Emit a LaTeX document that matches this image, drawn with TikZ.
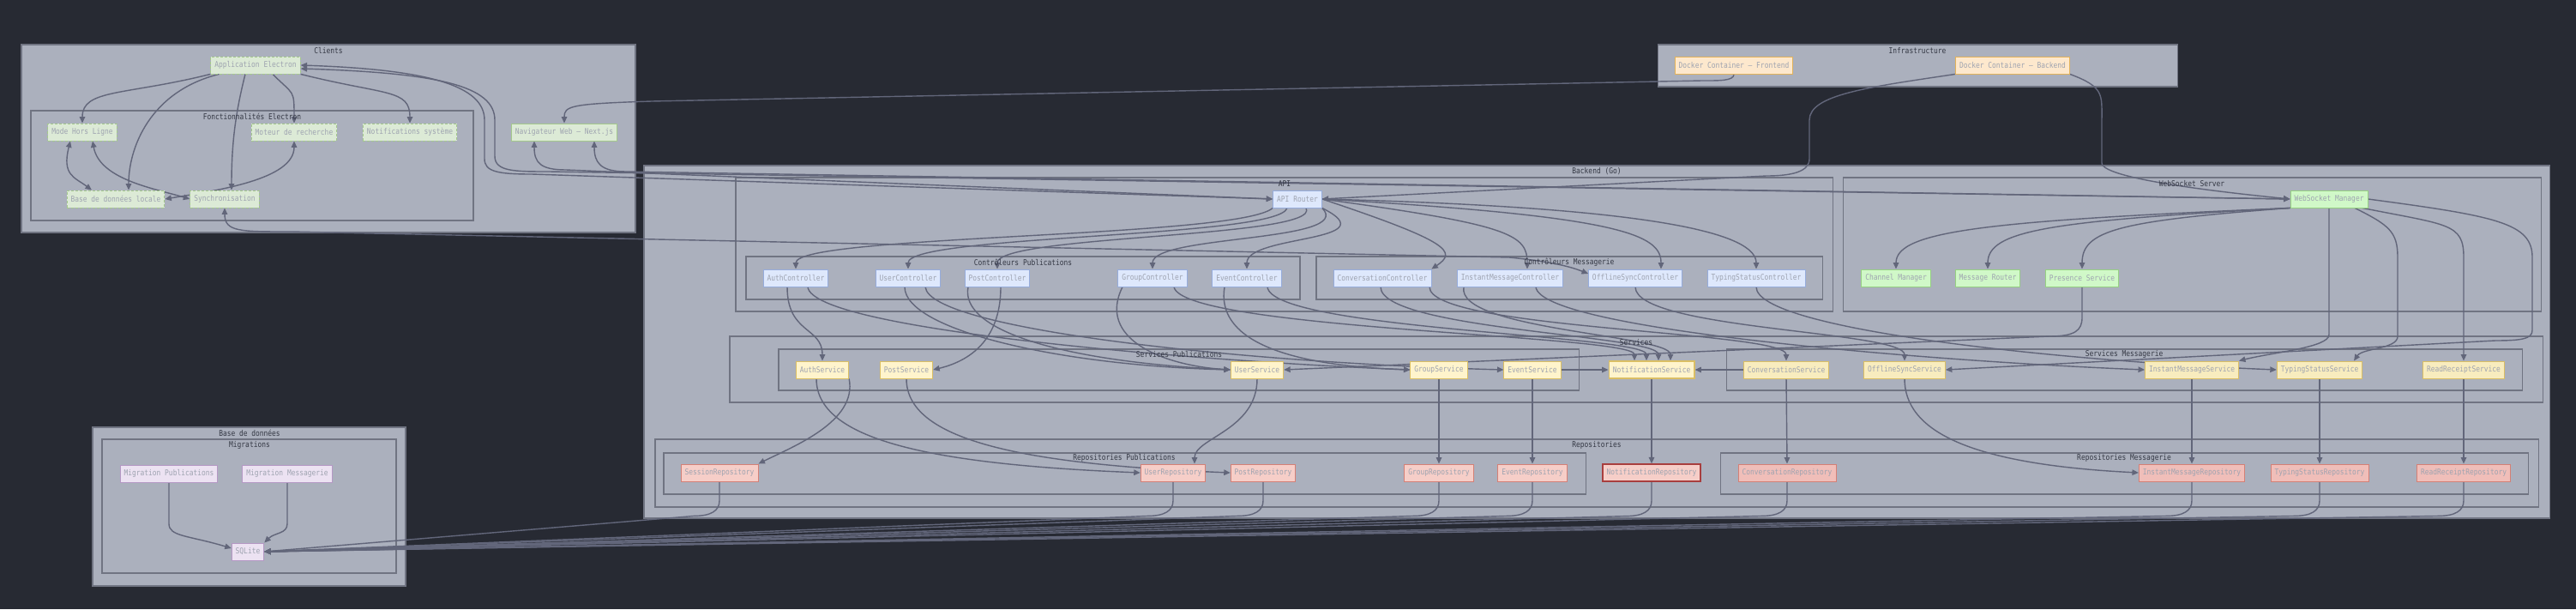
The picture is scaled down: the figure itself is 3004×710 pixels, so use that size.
\documentclass[tikz,border=0pt]{standalone}
\usepackage{fontspec}
\newfontfamily\diafont[FakeStretch=0.85]{DejaVu Sans Mono}
\usetikzlibrary{arrows.meta,calc}

\definecolor{bgcol}{RGB}{39,42,51}
\definecolor{clfill}{RGB}{171,176,189}
\definecolor{cldraw}{RGB}{112,116,130}
\definecolor{linkcol}{RGB}{98,102,122}
\definecolor{nodetext}{RGB}{158,163,176}
\definecolor{titletext}{RGB}{52,56,68}
\definecolor{elecfill}{RGB}{220,234,214}
\definecolor{elecdraw}{RGB}{164,200,140}
\definecolor{dockfill}{RGB}{253,232,205}
\definecolor{dockdraw}{RGB}{226,178,90}
\definecolor{apifill}{RGB}{222,232,252}
\definecolor{apidraw}{RGB}{150,172,220}
\definecolor{wsfill}{RGB}{208,248,200}
\definecolor{wsdraw}{RGB}{150,208,130}
\definecolor{svcfill}{RGB}{255,244,204}
\definecolor{svcmfill}{RGB}{248,236,190}
\definecolor{svcdraw}{RGB}{218,190,100}
\definecolor{repofill}{RGB}{246,206,200}
\definecolor{repomfill}{RGB}{240,190,185}
\definecolor{repodraw}{RGB}{212,128,118}
\definecolor{notifdraw}{RGB}{168,62,62}
\definecolor{dbfill}{RGB}{236,226,242}
\definecolor{dbdraw}{RGB}{180,152,196}

\pgfdeclarelayer{bg}
\pgfdeclarelayer{links}
\pgfsetlayers{bg,links,main}

\tikzset{
  box/.style={draw, rectangle, line width=0.5pt, minimum height=0.4cm,
    inner xsep=0.09cm, inner ysep=0pt, text=nodetext},
  elecbox/.style={box, fill=elecfill, draw=elecdraw, dash pattern=on 0.06cm off 0.04cm},
  webbox/.style={box, fill=elecfill, draw=elecdraw},
  dockbox/.style={box, fill=dockfill, draw=dockdraw},
  apibox/.style={box, fill=apifill, draw=apidraw},
  wsbox/.style={box, fill=wsfill, draw=wsdraw},
  svcbox/.style={box, fill=svcfill, draw=svcdraw},
  svcmbox/.style={box, fill=svcmfill, draw=svcdraw},
  repobox/.style={box, fill=repofill, draw=repodraw},
  repombox/.style={box, fill=repomfill, draw=repodraw},
  dbbox/.style={box, fill=dbfill, draw=dbdraw},
  cluster/.style={draw=cldraw, fill=clfill, line width=0.6pt},
  cltitle/.style={text=titletext, inner sep=0pt},
  link/.style={draw=linkcol, line width=0.8pt, -{Triangle[length=0.15cm, width=0.13cm]}},
  bilink/.style={link, {Triangle[length=0.15cm, width=0.13cm]}-{Triangle[length=0.15cm, width=0.13cm]}},
}

\begin{document}
\begin{tikzpicture}[x=0.02cm, y=0.02cm, every node/.style={font=\diafont\fontsize{5.3}{6}\selectfont}]

\begin{pgfonlayer}{bg}
\fill[bgcol] (0,0) rectangle (3004,-710);
\useasboundingbox (0,0) rectangle (3004,-710);

% clusters
\draw[cluster] (25,-52) rectangle (741,-271);
\draw[cluster] (36,-129) rectangle (552,-257);
\draw[cluster] (1933,-52) rectangle (2539,-101);
\draw[cluster] (751,-193) rectangle (2973,-604);
\draw[cluster] (858,-207) rectangle (2137,-363);
\draw[cluster] (870,-299) rectangle (1516,-349);
\draw[cluster] (1535,-299) rectangle (2125,-349);
\draw[cluster] (2149,-207) rectangle (2963,-363);
\draw[cluster] (851,-392) rectangle (2965,-469);
\draw[cluster] (908,-407) rectangle (1841,-455);
\draw[cluster] (2013,-407) rectangle (2941,-455);
\draw[cluster] (764,-512) rectangle (2960,-591);
\draw[cluster] (774,-528) rectangle (1849,-576);
\draw[cluster] (2006,-528) rectangle (2948,-576);
\draw[cluster] (108,-498) rectangle (473,-683);
\draw[cluster] (119,-512) rectangle (462,-668);
\end{pgfonlayer}

% cluster titles
\node[cltitle] (tclients) at (383,-59) {Clients};
\node[cltitle] (tfonct) at (294,-136) {Fonctionnalités Electron};
\node[cltitle] (tinfra) at (2236,-59) {Infrastructure};
\node[cltitle] (tbackend) at (1862,-200) {Backend (Go)};
\node[cltitle] (tapi) at (1498,-214) {API};
\node[cltitle] (tctrlpub) at (1193,-306) {Contrôleurs Publications};
\node[cltitle] (tctrlmsg) at (1830,-306) {Contrôleurs Messagerie};
\node[cltitle] (twssrv) at (2556,-214) {WebSocket Server};
\node[cltitle] (tservices) at (1908,-399) {Services};
\node[cltitle] (tsvcpub) at (1375,-413) {Services Publications};
\node[cltitle] (tsvcmsg) at (2477,-413) {Services Messagerie};
\node[cltitle] (trepos) at (1862,-519) {Repositories};
\node[cltitle] (trepopub) at (1311,-534) {Repositories Publications};
\node[cltitle] (trepomsg) at (2477,-534) {Repositories Messagerie};
\node[cltitle] (tdb) at (291,-505) {Base de données};
\node[cltitle] (tmigr) at (291,-519) {Migrations};

% clients
\node[elecbox] (app) at (298,-76) {Application Electron};
\node[elecbox] (offline) at (96,-154) {Mode Hors Ligne};
\node[elecbox] (search) at (343,-154) {Moteur de recherche};
\node[elecbox] (notif) at (478,-154) {Notifications système};
\node[webbox] (web) at (658,-154) {Navigateur Web – Next.js};
\node[elecbox] (localdb) at (135,-232) {Base de données locale};
\node[elecbox] (sync) at (262,-232) {Synchronisation};

% infrastructure
\node[dockbox] (front) at (2022,-76) {Docker Container – Frontend};
\node[dockbox] (back) at (2347,-76) {Docker Container – Backend};

% api
\node[apibox] (router) at (1513,-232) {API Router};
\node[apibox] (authc) at (928,-324) {AuthController};
\node[apibox] (userc) at (1059,-324) {UserController};
\node[apibox] (postc) at (1163,-324) {PostController};
\node[apibox] (groupc) at (1344,-324) {GroupController};
\node[apibox] (eventc) at (1454,-324) {EventController};
\node[apibox] (convc) at (1612,-324) {ConversationController};
\node[apibox] (imc) at (1761,-324) {InstantMessageController};
\node[apibox] (offc) at (1907,-324) {OfflineSyncController};
\node[apibox] (typc) at (2048,-324) {TypingStatusController};

% websocket server
\node[wsbox] (wsm) at (2716,-232) {WebSocket Manager};
\node[wsbox] (chan) at (2211,-324) {Channel Manager};
\node[wsbox] (msgr) at (2318,-324) {Message Router};
\node[wsbox] (presence) at (2428,-324) {Presence Service};

% services
\node[svcbox] (auths) at (959,-431) {AuthService};
\node[svcbox] (posts) at (1057,-431) {PostService};
\node[svcbox] (users) at (1466,-431) {UserService};
\node[svcbox] (groups) at (1678,-431) {GroupService};
\node[svcbox] (events) at (1787,-431) {EventService};
\node[svcbox, line width=0.8pt] (notifs) at (1926,-431) {NotificationService};
\node[svcmbox] (convs) at (2083,-431) {ConversationService};
\node[svcmbox] (offs) at (2221,-431) {OfflineSyncService};
\node[svcmbox] (ims) at (2556,-431) {InstantMessageService};
\node[svcmbox] (typs) at (2705,-431) {TypingStatusService};
\node[svcmbox] (rrs) at (2873,-431) {ReadReceiptService};

% repositories
\node[repobox] (sessr) at (839,-551) {SessionRepository};
\node[repobox] (userr) at (1368,-551) {UserRepository};
\node[repobox] (postr) at (1473,-551) {PostRepository};
\node[repobox] (groupr) at (1678,-551) {GroupRepository};
\node[repobox] (eventr) at (1787,-551) {EventRepository};
\node[repobox, draw=notifdraw, line width=0.7pt] (notifr) at (1926,-551) {NotificationRepository};
\node[repombox] (convr) at (2084,-551) {ConversationRepository};
\node[repombox] (imr) at (2556,-551) {InstantMessageRepository};
\node[repombox] (typr) at (2705,-551) {TypingStatusRepository};
\node[repombox] (rrr) at (2873,-551) {ReadReceiptRepository};

% database
\node[dbbox] (migp) at (197,-552) {Migration Publications};
\node[dbbox] (migm) at (335,-552) {Migration Messagerie};
\node[dbbox] (sqlite) at (289,-643) {SQLite};

\begin{pgfonlayer}{links}
% electron app
\draw[link] (app.south west) .. controls +(-100,-25) and +(0,40) .. (offline.north);
\draw[link] ($(app.south west)+(10,0)$) .. controls +(-80,-20) and +(0,50) .. ($(localdb.north)+(15,0)$);
\draw[link] ($(app.south)+(-12,0)$) .. controls +(-10,-40) and +(0,60) .. ($(sync.north)+(8,0)$);
\draw[link] ($(app.south)+(20,0)$) .. controls +(25,-25) and +(0,40) .. (search.north);
\draw[link] (app.south east) .. controls +(100,-25) and +(0,40) .. (notif.north);
\draw[bilink] ($(offline.south)+(-14,0)$) .. controls +(-10,-40) and +(-20,15) .. ($(localdb.north)+(-28,0)$);
\draw[bilink] ($(offline.south)+(12,0)$) .. controls +(8,-45) and +(-40,12) .. (sync.west);
\draw[bilink] (search.south) .. controls +(0,-45) and +(60,10) .. (localdb.east);
\draw[bilink] (sync.south) .. controls +(0,-28) and +(-60,0) .. (340,-270) -- (1760,-300) .. controls +(50,-5) and +(-20,8) .. ($(offc.west)+(0,5)$);

% clients to backend
\draw[bilink] (app.east) .. controls +(150,-5) and +(0,40) .. (565,-140) -- (565,-185) .. controls +(0,-15) and +(-40,0) .. (620,-203) -- (router.west);
\draw[bilink] ($(app.east)+(0,-4)$) .. controls +(160,-5) and +(0,40) .. (577,-140) -- (577,-182) .. controls +(0,-18) and +(-40,0) .. (640,-200) -- (wsm.west);
\draw[bilink] ($(web.south)+(-35,0)$) .. controls +(0,-25) and +(-30,0) .. (660,-198) -- (router.west);
\draw[bilink] ($(web.south)+(35,0)$) .. controls +(0,-25) and +(-30,0) .. (730,-200) -- (wsm.west);

% infrastructure
\draw[link] (front.south) .. controls +(0,-8) and +(20,0) .. (1985,-94) -- (760,-118) .. controls +(-95,-3) and +(0,20) .. (web.north);
\draw[link] (back.south west) .. controls +(-100,-15) and +(0,30) .. (2110,-140) -- (2110,-185) .. controls +(0,-15) and +(30,0) .. (2060,-205) -- (router.east);
\draw[link] (back.south east) .. controls +(40,-15) and +(0,30) .. (2451,-140) -- (2451,-190) .. controls +(0,-20) and +(-50,5) .. (wsm.west);

% router to controllers
\draw[link] (router.south west) .. controls +(-40,-35) and +(0,40) .. (authc.north);
\draw[link] ($(router.south)+(-12,0)$) .. controls +(-10,-35) and +(0,40) .. (userc.north);
\draw[link] ($(router.south)+(10,0)$) .. controls +(20,-35) and +(0,40) .. (postc.north);
\draw[link] (router.south east) .. controls +(40,-40) and +(0,40) .. (groupc.north);
\draw[link] (router.-20) .. controls +(80,-40) and +(0,40) .. (eventc.north);
\draw[link] (router.east) .. controls +(150,-50) and +(30,20) .. (convc.north east);
\draw[link] (router.east) .. controls +(220,-30) and +(0,40) .. ($(imc.north)+(20,0)$);
\draw[link] (router.east) .. controls +(350,-20) and +(0,40) .. ($(offc.north)+(30,0)$);
\draw[link] (router.east) .. controls +(400,-10) and +(0,40) .. (typc.north);

% websocket manager
\draw[link] (wsm.south west) .. controls +(-350,-15) and +(0,45) .. (chan.north);
\draw[link] (wsm.south west) .. controls +(-280,-15) and +(0,45) .. (msgr.north);
\draw[link] (wsm.south west) .. controls +(-200,-15) and +(0,45) .. (presence.north);
\draw[link] (wsm.south) -- (2716,-390) .. controls +(0,-15) and +(40,10) .. (ims.north east);
\draw[link] ($(wsm.south)+(30,0)$) .. controls +(40,-20) and +(0,30) .. (2796,-300) -- (2796,-392) .. controls +(0,-15) and +(10,15) .. ($(typs.north)+(40,0)$);
\draw[link] (wsm.-15) .. controls +(100,-20) and +(0,40) .. (2873,-300) -- (rrs.north);
\draw[link] (wsm.east) .. controls +(150,-20) and +(0,40) .. (2953,-300) -- (2953,-385) .. controls +(0,-10) and +(30,0) .. (2910,-397) -- (offs.east);
\draw[link] (presence.south) -- (2428,-370) .. controls +(0,-15) and +(30,0) .. (2390,-392) -- (users.east);

% controllers to services
\draw[link] ($(authc.south)+(-10,0)$) .. controls +(0,-55) and +(0,40) .. (auths.north);
\draw[link] ($(authc.south)+(14,0)$) .. controls +(5,-50) and +(-250,10) .. (groups.west);
\draw[link] ($(userc.south)+(-4,0)$) .. controls +(0,-50) and +(-200,5) .. (users.west);
\draw[link] ($(userc.south)+(20,0)$) .. controls +(5,-50) and +(-300,8) .. (events.west);
\draw[link] ($(postc.south)+(4,0)$) .. controls +(0,-55) and +(50,12) .. (posts.east);
\draw[link] ($(postc.south)+(-34,0)$) .. controls +(-10,-50) and +(-200,10) .. (users.west);
\draw[link] ($(groupc.south)+(-35,0)$) .. controls +(-30,-60) and +(-80,5) .. (users.west);
\draw[link] ($(groupc.south)+(25,0)$) .. controls +(10,-50) and +(0,30) .. ($(notifs.north)+(-20,0)$);
\draw[link] ($(eventc.south)+(-26,0)$) .. controls +(-10,-60) and +(-150,5) .. (groups.west);
\draw[link] ($(eventc.south)+(24,0)$) .. controls +(5,-50) and +(0,30) .. ($(notifs.north)+(-6,0)$);
\draw[link] ($(convc.south)+(-2,0)$) .. controls +(0,-50) and +(0,30) .. ($(notifs.north)+(8,0)$);
\draw[link] ($(convc.south)+(55,0)$) .. controls +(0,-50) and +(0,35) .. (convs.north);
\draw[link] ($(imc.south)+(-54,0)$) .. controls +(-10,-50) and +(0,30) .. ($(notifs.north)+(22,0)$);
\draw[link] ($(imc.south)+(30,0)$) .. controls +(5,-50) and +(-250,10) .. (ims.west);
\draw[link] (offc.south) .. controls +(0,-50) and +(0,35) .. (offs.north);
\draw[link] (typc.south) .. controls +(0,-50) and +(-250,10) .. (typs.west);
\draw[link] (events.east) -- (notifs.west);
\draw[link] (convs.west) -- (notifs.east);

% services to repositories
\draw[link] (auths.south east) .. controls +(10,-50) and +(40,20) .. (sessr.north east);
\draw[link] ($(auths.south)+(-7,0)$) .. controls +(0,-70) and +(-250,10) .. (userr.west);
\draw[link] (posts.south) .. controls +(0,-70) and +(-250,10) .. (postr.west);
\draw[link] (users.south) .. controls +(0,-60) and +(0,30) .. ($(userr.north)+(25,0)$);
\draw[link] (groups.south) -- (groupr.north);
\draw[link] (events.south) -- (eventr.north);
\draw[link] (notifs.south) -- (notifr.north);
\draw[link] (convs.south) -- (convr.north);
\draw[link] (offs.south) .. controls +(0,-60) and +(-200,10) .. (imr.west);
\draw[link] (ims.south) -- (imr.north);
\draw[link] (typs.south) -- (typr.north);
\draw[link] (rrs.south) -- (rrr.north);

% repositories to sqlite
\foreach \r in {sessr,userr,postr,groupr,eventr,notifr,convr,imr,typr,rrr}
  \draw[link] (\r.south) -- ++(0,-22) .. controls +(0,-12) and +(20,0) .. ++(-30,-18) -- (sqlite.east);

% migrations
\draw[link] (migp.south) -- ++(0,-48) .. controls +(0,-15) and +(-50,15) .. ($(sqlite.west)+(0,4)$);
\draw[link] (migm.south) -- ++(0,-48) .. controls +(0,-12) and +(12,12) .. (sqlite.north east);
\end{pgfonlayer}

\end{tikzpicture}
\end{document}
